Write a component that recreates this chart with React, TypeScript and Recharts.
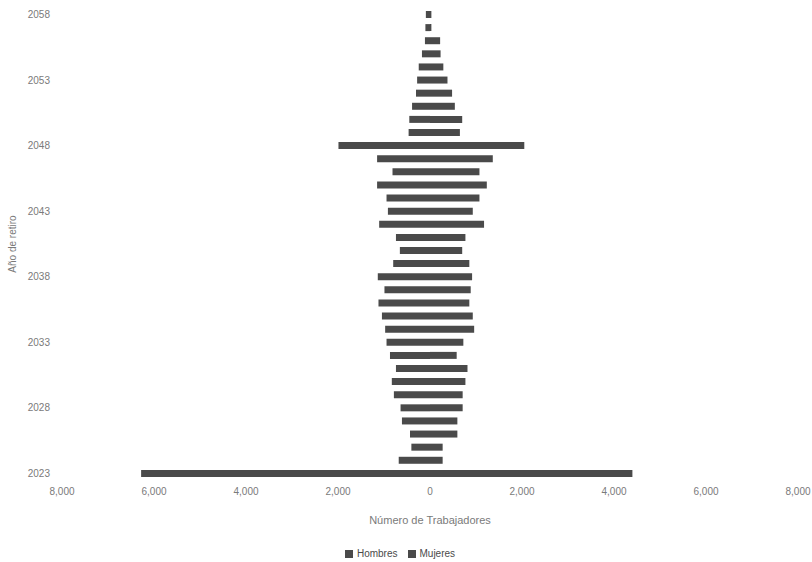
import React from 'react';
import { BarChart, Bar, XAxis, YAxis, Legend } from 'recharts';

const years = [
  2058, 2057, 2056, 2055, 2054, 2053, 2052, 2051, 2050, 2049,
  2048, 2047, 2046, 2045, 2044, 2043, 2042, 2041, 2040, 2039,
  2038, 2037, 2036, 2035, 2034, 2033, 2032, 2031, 2030, 2029,
  2028, 2027, 2026, 2025, 2024, 2023,
];

const hombres = [
  -90, -100, -110, -175, -245, -280, -305, -390, -450, -465,
  -1990, -1150, -815, -1150, -945, -915, -1105, -740, -655, -800,
  -1135, -990, -1120, -1045, -975, -945, -870, -740, -830, -785,
  -640, -610, -435, -405, -680, -6280,
];

const mujeres = [
  30, 30, 220, 230, 290, 380, 480, 540, 700, 650,
  2050, 1365, 1075, 1235, 1075, 930, 1175, 770, 700, 855,
  915, 885, 855, 930, 960, 725, 580, 815, 770, 710,
  710, 595, 595, 275, 275, 4400,
];

const xTicks = [-8000, -6000, -4000, -2000, 0, 2000, 4000, 6000, 8000];

const data = years.map((y, i) => ({
  year: String(y),
  Hombres: hombres[i],
  Mujeres: mujeres[i],
}));

const fmt = (v: number) => Math.abs(v).toLocaleString('en-US');
const textColor = '#7a7a7a';
const barColor = '#4a4a4a';
const font = '"Liberation Sans", Arial, sans-serif';

export default function App() {
  return (
    <div style={{ position: 'absolute', left: 0, top: 0, width: 812, height: 562, background: '#fff', fontFamily: font }}>
      <BarChart
        width={812}
        height={562}
        data={data}
        layout="vertical"
        stackOffset="sign"
        margin={{ top: 8, right: 14, bottom: 0, left: 12 }}
      >
        <XAxis
          type="number"
          domain={[-8000, 8000]}
          ticks={xTicks}
          tickFormatter={fmt}
          axisLine={false}
          tickLine={false}
          height={68}
          tick={{ fill: textColor, fontSize: 10, fontFamily: font }}
          label={{ value: 'Número de Trabajadores', position: 'insideBottom', offset: 24, fill: textColor, fontSize: 11, fontFamily: font }}
        />
        <YAxis
          type="category"
          dataKey="year"
          interval={4}
          width={50}
          axisLine={false}
          tickLine={false}
          tickMargin={6}
          tick={{ fill: textColor, fontSize: 10, fontFamily: font }}
          label={{ value: 'Año de retiro', angle: -90, position: 'center', dx: -25, fill: textColor, fontSize: 10, fontFamily: font }}
        />
        <Legend
          verticalAlign="bottom"
          height={14}
          iconType="square"
          iconSize={8}
          wrapperStyle={{ fontSize: 10, color: textColor, fontFamily: font }}
        />
        <Bar dataKey="Hombres" stackId="a" fill={barColor} barSize={7} isAnimationActive={false} />
        <Bar dataKey="Mujeres" stackId="a" fill={barColor} barSize={7} isAnimationActive={false} />
      </BarChart>
    </div>
  );
}
